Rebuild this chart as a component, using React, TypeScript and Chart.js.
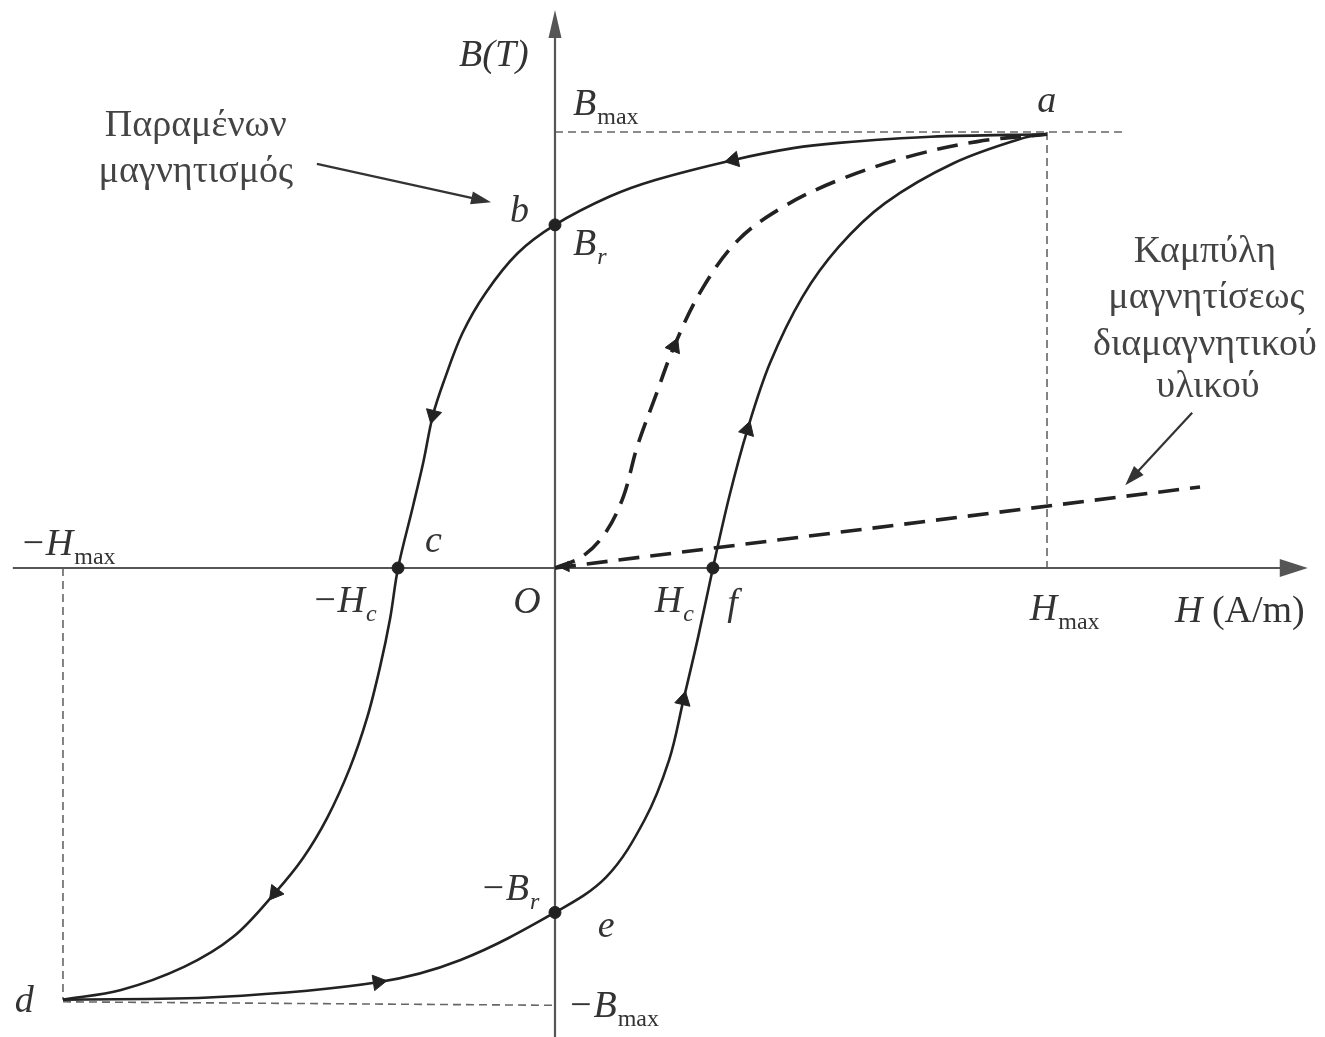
import React, { useEffect, useRef } from "react";
import { Chart, registerables } from "chart.js";

Chart.register(...registerables);

// View window (normalised units: H / Hmax, B / Bmax)
const VIEW_H = [-1.128, 1.565];
const VIEW_B = [-1.0757, 1.3028];
const AXIS_H = [-1.102, 1.53];
const AXIS_B = [-1.08, 1.28];

// Descending branch a → b → c → d (listed by ascending H)
const upperH = [-1.0, -0.882, -0.754, -0.654, -0.569, -0.512, -0.463, -0.417, -0.382, -0.356, -0.335, -0.319, -0.289, -0.268, -0.248, -0.225, -0.188, -0.141, -0.076, 0.0, 0.111, 0.204, 0.363, 0.484, 0.577, 0.764, 1.0];
const upperB = [-0.99, -0.968, -0.915, -0.846, -0.745, -0.665, -0.573, -0.459, -0.344, -0.229, -0.115, 0.0, 0.14, 0.241, 0.351, 0.431, 0.539, 0.631, 0.722, 0.787, 0.852, 0.89, 0.936, 0.963, 0.975, 0.989, 0.995];

// Ascending branch d → e → f → a
const lowerH = [-1.0, -0.685, -0.36, -0.192, 0.0, 0.104, 0.182, 0.232, 0.261, 0.291, 0.321, 0.354, 0.391, 0.437, 0.503, 0.577, 0.671, 0.811, 0.951, 1.0];
const lowerB = [-0.99, -0.984, -0.95, -0.899, -0.79, -0.709, -0.578, -0.44, -0.303, -0.158, 0.0, 0.163, 0.317, 0.47, 0.622, 0.737, 0.837, 0.929, 0.986, 0.995];

// Initial magnetisation curve O → a
const initH = [0.0, 0.055, 0.102, 0.139, 0.167, 0.204, 0.242, 0.298, 0.372, 0.465, 0.577, 0.717, 0.858, 1.0];
const initB = [0.0, 0.026, 0.08, 0.164, 0.278, 0.393, 0.508, 0.638, 0.752, 0.829, 0.89, 0.943, 0.978, 0.995];

// Diamagnetic material magnetisation line
const diaH = [0.0, 1.311];
const diaB = [0.0, 0.186];

// Marked points b, c, f, e
const keyH = [0.0, -0.319, 0.321, 0.0];
const keyB = [0.787, 0.0, 0.0, -0.79];

// Direction arrows on the curves
const arrowH = [0.363, -0.248, -0.569, -0.36, 0.261, 0.391, 0.242, 0.022];
const arrowB = [0.936, 0.351, -0.745, -0.95, -0.303, 0.317, 0.508, 0.003];
const arrowRot = [-102, -166, -142, 81, 13, 17, 23, -95];

// Guide lines (Bmax, Hmax, -Hmax, -Bmax)
const guides = [
  [[0, 1.0], [1.159, 1.0]],
  [[1.0, 1.0], [1.0, 0.0]],
  [[-1.0, 0.0], [-1.0, -0.99]],
  [[-1.0, -0.995], [0.0, -1.003]],
];

// Text labels: parts [text, kind] — i: italic, s: subscript, si: italic subscript, r: roman
const labels: { h: number; b: number; parts: [string, string][] }[] = [
  { h: -0.195, b: 1.151, parts: [["B(T)", "i"]] },
  { h: 0.0366, b: 1.039, parts: [["B", "i"], ["max", "s"]] },
  { h: 0.98, b: 1.046, parts: [["a", "i"]] },
  { h: -0.0915, b: 0.794, parts: [["b", "i"]] },
  { h: 0.0366, b: 0.718, parts: [["B", "i"], ["r", "si"]] },
  { h: -0.264, b: 0.0367, parts: [["c", "i"]] },
  { h: -0.494, b: -0.101, parts: [["\u2212H", "i"], ["c", "si"]] },
  { h: -0.085, b: -0.103, parts: [["O", "i"]] },
  { h: 0.203, b: -0.101, parts: [["H", "i"], ["c", "si"]] },
  { h: 0.35, b: -0.108, parts: [["f", "i"]] },
  { h: 0.965, b: -0.119, parts: [["H", "i"], ["max", "s"]] },
  { h: 1.26, b: -0.124, parts: [["H ", "i"], ["(A/m)", "r"]] },
  { h: -1.087, b: 0.03, parts: [["\u2212H", "i"], ["max", "s"]] },
  { h: -1.098, b: -1.018, parts: [["d", "i"]] },
  { h: 0.026, b: -1.03, parts: [["\u2212B", "i"], ["max", "s"]] },
  { h: 0.087, b: -0.846, parts: [["e", "i"]] },
  { h: -0.152, b: -0.761, parts: [["\u2212B", "i"], ["r", "si"]] },
];

const noteLeft = ["Παραμένων", "μαγνητισμός"];
const noteLeftPos = { h: -0.73, b: [0.991, 0.885] };
const noteRight = ["Καμπύλη", "μαγνητίσεως", "διαμαγνητικού", "υλικού"];
const noteRightPos = { h: [1.321, 1.324, 1.321, 1.327], b: [0.702, 0.596, 0.489, 0.392] };
const pointers = [
  [[-0.484, 0.927], [-0.13, 0.839]],
  [[1.295, 0.356], [1.159, 0.19]],
];

const FONT = '"Liberation Serif", "DejaVu Serif", serif';

function pts(hs: number[], bs: number[]) {
  return hs.map((h, i) => ({ x: h, y: bs[i] }));
}

function arrowHead(ctx: CanvasRenderingContext2D, x: number, y: number, ang: number, len: number, half: number) {
  ctx.save();
  ctx.translate(x, y);
  ctx.rotate(ang);
  ctx.beginPath();
  ctx.moveTo(0, 0);
  ctx.lineTo(-len, -half);
  ctx.lineTo(-len, half);
  ctx.closePath();
  ctx.fill();
  ctx.restore();
}

const overlay = {
  id: "overlay",
  beforeDatasetsDraw(chart: any) {
    const { ctx, scales } = chart;
    const px = (v: number) => scales.x.getPixelForValue(v);
    const py = (v: number) => scales.y.getPixelForValue(v);
    ctx.save();
    // guides
    ctx.strokeStyle = "#666";
    ctx.lineWidth = 1.6;
    ctx.setLineDash([8, 5]);
    guides.forEach(([p, q]) => {
      ctx.beginPath();
      ctx.moveTo(px(p[0]), py(p[1]));
      ctx.lineTo(px(q[0]), py(q[1]));
      ctx.stroke();
    });
    ctx.setLineDash([]);
    // axes
    ctx.strokeStyle = "#555";
    ctx.fillStyle = "#555";
    ctx.lineWidth = 2.2;
    const y0 = py(0), x0 = px(0);
    ctx.beginPath();
    ctx.moveTo(px(AXIS_H[0]), y0);
    ctx.lineTo(px(AXIS_H[1]) - 20, y0);
    ctx.stroke();
    arrowHead(ctx, px(AXIS_H[1]), y0, 0, 28, 9);
    ctx.beginPath();
    ctx.moveTo(x0, py(AXIS_B[0]));
    ctx.lineTo(x0, py(AXIS_B[1]) + 20);
    ctx.stroke();
    arrowHead(ctx, x0, py(AXIS_B[1]), -Math.PI / 2, 28, 6.5);
    ctx.restore();
  },
  afterDatasetsDraw(chart: any) {
    const { ctx, scales } = chart;
    const px = (v: number) => scales.x.getPixelForValue(v);
    const py = (v: number) => scales.y.getPixelForValue(v);
    ctx.save();
    ctx.textBaseline = "alphabetic";
    ctx.textAlign = "left";
    ctx.fillStyle = "#333";
    labels.forEach((l) => {
      let cx = px(l.h);
      const by = py(l.b);
      l.parts.forEach(([t, k]) => {
        let dy = 0;
        if (k === "i") ctx.font = `italic 38px ${FONT}`;
        else if (k === "r") ctx.font = `38px ${FONT}`;
        else if (k === "s") { ctx.font = `24px ${FONT}`; dy = 9; cx += 1; }
        else { ctx.font = `italic 24px ${FONT}`; dy = 9; cx += 1; }
        ctx.fillText(t, cx, by + dy);
        cx += ctx.measureText(t).width;
      });
    });
    ctx.fillStyle = "#444";
    ctx.font = `38px ${FONT}`;
    ctx.textAlign = "center";
    noteLeft.forEach((t, i) => ctx.fillText(t, px(noteLeftPos.h), py(noteLeftPos.b[i])));
    noteRight.forEach((t, i) => ctx.fillText(t, px(noteRightPos.h[i]), py(noteRightPos.b[i])));
    // pointer arrows
    ctx.strokeStyle = "#333";
    ctx.fillStyle = "#333";
    ctx.lineWidth = 2.2;
    pointers.forEach(([p, q]) => {
      const x1 = px(p[0]), y1 = py(p[1]), x2 = px(q[0]), y2 = py(q[1]);
      const ang = Math.atan2(y2 - y1, x2 - x1);
      ctx.beginPath();
      ctx.moveTo(x1, y1);
      ctx.lineTo(x2 - Math.cos(ang) * 12, y2 - Math.sin(ang) * 12);
      ctx.stroke();
      arrowHead(ctx, x2, y2, ang, 20, 6.5);
    });
    ctx.restore();
  },
};

export default function App() {
  const ref = useRef<HTMLCanvasElement>(null);
  useEffect(() => {
    if (!ref.current) return;
    const solid = {
      showLine: true,
      borderColor: "#222",
      borderWidth: 2.6,
      pointRadius: 0,
      tension: 0.35,
      fill: false,
    };
    const dashed = { ...solid, borderWidth: 3.6, borderDash: [21, 11] };
    const chart = new Chart(ref.current, {
      type: "scatter",
      data: {
        datasets: [
          { ...solid, data: pts(upperH, upperB) },
          { ...solid, data: pts(lowerH, lowerB) },
          { ...dashed, data: pts(initH, initB) },
          { ...dashed, tension: 0, data: pts(diaH, diaB) },
          {
            data: pts(keyH, keyB),
            showLine: false,
            pointRadius: 6,
            pointBackgroundColor: "#222",
            pointBorderColor: "#222",
          },
          {
            data: pts(arrowH, arrowB),
            showLine: false,
            pointStyle: "triangle",
            pointRadius: [9, 9, 9, 9, 9, 9, 9, 6],
            pointRotation: arrowRot,
            pointBackgroundColor: "#222",
            pointBorderColor: "#222",
            pointBorderWidth: 1,
          },
        ] as any,
      },
      options: {
        animation: false,
        responsive: false,
        devicePixelRatio: 1,
        events: [],
        layout: { padding: 0, autoPadding: false },
        plugins: { legend: { display: false }, tooltip: { enabled: false } },
        scales: {
          x: { type: "linear", min: VIEW_H[0], max: VIEW_H[1], display: false },
          y: { type: "linear", min: VIEW_B[0], max: VIEW_B[1], display: false },
        },
      },
      plugins: [overlay],
    });
    return () => chart.destroy();
  }, []);
  return (
    <div style={{ position: "absolute", left: 0, top: 0, width: 1325, height: 1037, background: "#fff" }}>
      <canvas ref={ref} width={1325} height={1037} />
    </div>
  );
}
